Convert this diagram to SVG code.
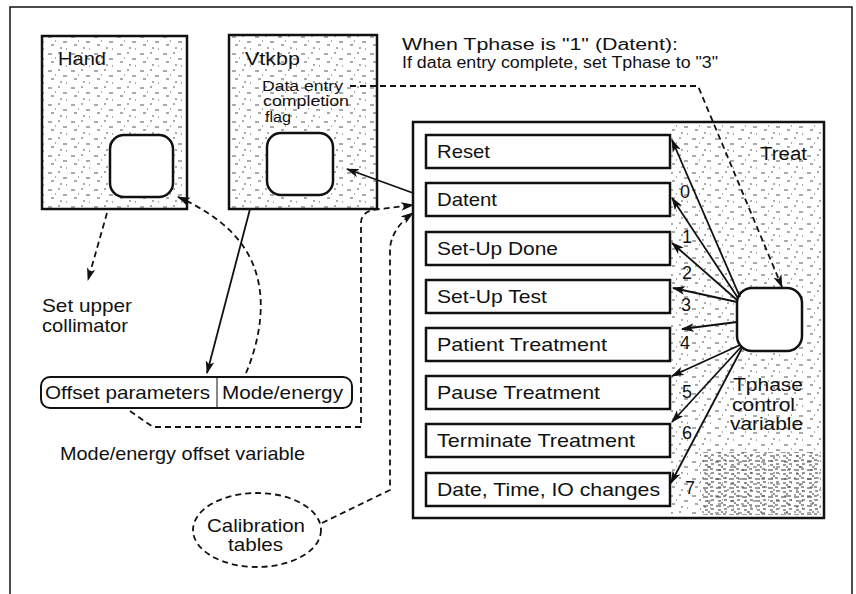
<svg xmlns="http://www.w3.org/2000/svg" width="856" height="594" viewBox="0 0 856 594">
<style>
text{font-family:"Liberation Sans",Arial,sans-serif;fill:#111}
.box{fill:#fff;stroke:#111;stroke-width:2.5}
.spk{fill:url(#spk);stroke:#111;stroke-width:2.5}
.rsq{fill:#fff;stroke:#111;stroke-width:2.5}
.ln{fill:none;stroke:#111;stroke-width:1.8}
.dash{fill:none;stroke:#111;stroke-width:1.8;stroke-dasharray:6 4}
.lbl{font-size:19px}
.num{font-size:18px}
</style>
<defs>
<pattern id="spk" width="23" height="17" patternUnits="userSpaceOnUse">
<path d="M2,3h4M12,2h2M17,8h4M5,11h3M14,14h2M9,7h1M20,15h1" stroke="#555" stroke-width="1"/>
</pattern>
<pattern id="spk2" width="13" height="9" patternUnits="userSpaceOnUse">
<path d="M1,2h5M8,1h3M3,6h3M9,5h3M6,8h2" stroke="#333" stroke-width="1.2"/>
</pattern>
<marker id="ah" viewBox="0 0 12 8" refX="11" refY="4" markerWidth="13" markerHeight="9" markerUnits="userSpaceOnUse" orient="auto">
<path d="M0,0L12,4L0,8L3,4Z" fill="#111"/>
</marker>
</defs>
<rect x="10" y="7" width="842" height="600" fill="#fff" stroke="#111" stroke-width="1.5"/>

<g id="note">
<text x="402" y="50" font-size="16" textLength="276" lengthAdjust="spacingAndGlyphs">When Tphase is "1" (Datent):</text>
<text x="402" y="68" font-size="16" textLength="316" lengthAdjust="spacingAndGlyphs">If data entry complete, set Tphase to "3"</text>
</g>

<g id="hand">
<rect class="spk" x="42" y="36" width="145" height="173"/>
<text x="58" y="65" font-size="18" textLength="48" lengthAdjust="spacingAndGlyphs">Hand</text>
<rect class="rsq" x="110" y="135" width="63" height="62" rx="14"/>
</g>

<g id="vtkbp">
<rect class="spk" x="229" y="35" width="148" height="174"/>
<text x="245" y="65" font-size="18" textLength="55" lengthAdjust="spacingAndGlyphs">Vtkbp</text>
<text x="262" y="91" font-size="14" textLength="81" lengthAdjust="spacingAndGlyphs">Data entry</text>
<text x="263" y="106" font-size="14" textLength="86" lengthAdjust="spacingAndGlyphs">completion</text>
<text x="265" y="122" font-size="14" textLength="26" lengthAdjust="spacingAndGlyphs">flag</text>
<rect class="rsq" x="267" y="133" width="66" height="62" rx="14"/>
</g>

<g id="set-upper">
<text class="lbl" x="42" y="312" textLength="90" lengthAdjust="spacingAndGlyphs">Set upper</text>
<text class="lbl" x="42" y="332" textLength="86" lengthAdjust="spacingAndGlyphs">collimator</text>
</g>

<g id="offset-var">
<rect x="41" y="377" width="311" height="31" rx="9" fill="#fff" stroke="#111" stroke-width="2"/>
<line x1="217" y1="378" x2="217" y2="407" stroke="#111" stroke-width="1"/>
<text class="lbl" x="45" y="399" textLength="165" lengthAdjust="spacingAndGlyphs">Offset parameters</text>
<text class="lbl" x="222" y="399" textLength="121" lengthAdjust="spacingAndGlyphs">Mode/energy</text>
<text class="lbl" x="60" y="460" textLength="245" lengthAdjust="spacingAndGlyphs">Mode/energy offset variable</text>
</g>

<g id="calibration">
<ellipse cx="257" cy="530" rx="64" ry="37" class="dash"/>
<text class="lbl" x="207" y="532" textLength="98" lengthAdjust="spacingAndGlyphs">Calibration</text>
<text class="lbl" x="228" y="551" textLength="55" lengthAdjust="spacingAndGlyphs">tables</text>
</g>

<g id="treat">
<rect class="box" x="413" y="122" width="411" height="396"/>
<rect x="671" y="124" width="151" height="392" fill="url(#spk)"/>
<rect x="700" y="452" width="121" height="63" fill="url(#spk2)"/>
<text x="760" y="160" font-size="18" textLength="47" lengthAdjust="spacingAndGlyphs">Treat</text>
<g id="phases">
<rect class="box" x="426" y="135" width="244" height="33"/>
<text class="lbl" x="437" y="158" textLength="53" lengthAdjust="spacingAndGlyphs">Reset</text>
<rect class="box" x="426" y="183" width="244" height="33"/>
<text class="lbl" x="437" y="206" textLength="60" lengthAdjust="spacingAndGlyphs">Datent</text>
<rect class="box" x="426" y="232" width="244" height="33"/>
<text class="lbl" x="437" y="255" textLength="121" lengthAdjust="spacingAndGlyphs">Set-Up Done</text>
<rect class="box" x="426" y="280" width="244" height="33"/>
<text class="lbl" x="437" y="303" textLength="110" lengthAdjust="spacingAndGlyphs">Set-Up Test</text>
<rect class="box" x="426" y="328" width="244" height="33"/>
<text class="lbl" x="437" y="351" textLength="170" lengthAdjust="spacingAndGlyphs">Patient Treatment</text>
<rect class="box" x="426" y="376" width="244" height="33"/>
<text class="lbl" x="437" y="399" textLength="163" lengthAdjust="spacingAndGlyphs">Pause Treatment</text>
<rect class="box" x="426" y="424" width="244" height="33"/>
<text class="lbl" x="437" y="447" textLength="198" lengthAdjust="spacingAndGlyphs">Terminate Treatment</text>
<rect class="box" x="426" y="473" width="244" height="33"/>
<text class="lbl" x="437" y="496" textLength="223" lengthAdjust="spacingAndGlyphs">Date, Time, IO changes</text>
</g>
<g id="tphase">
<rect class="rsq" x="737" y="288" width="65" height="63" rx="15"/>
<text x="733" y="391" font-size="18" textLength="70" lengthAdjust="spacingAndGlyphs">Tphase</text>
<text x="732" y="411" font-size="18" textLength="63" lengthAdjust="spacingAndGlyphs">control</text>
<text x="730" y="430" font-size="18" textLength="73" lengthAdjust="spacingAndGlyphs">variable</text>
</g>
<g id="phase-numbers">
<text class="num" x="680" y="198">0</text>
<text class="num" x="682" y="243">1</text>
<text class="num" x="682" y="279">2</text>
<text class="num" x="681" y="311">3</text>
<text class="num" x="680" y="349">4</text>
<text class="num" x="682" y="398">5</text>
<text class="num" x="682" y="439">6</text>
<text class="num" x="685" y="494">7</text>
</g>
</g>

<g id="connectors">
<path class="dash" d="M350,86L698,86L782,287" marker-end="url(#ah)"/>
<path class="dash" d="M107,213L88,280" marker-end="url(#ah)"/>
<path class="ln" d="M250,209L207,373" marker-end="url(#ah)"/>
<path class="dash" d="M246,373C258,345 265,310 258,280C250,245 225,218 178,197" marker-end="url(#ah)"/>
<path class="ln" d="M413,193L347,169" marker-end="url(#ah)"/>
<path class="dash" d="M130,411L153,427L361,427L361,222Q362,210 380,209L413,205" marker-end="url(#ah)"/>
<path class="dash" d="M322,523L390,490L390,248Q392,228 413,213" marker-end="url(#ah)"/>
<path class="ln" d="M740,297L672,140" marker-end="url(#ah)"/>
<path class="ln" d="M738,298L672,198" marker-end="url(#ah)"/>
<path class="ln" d="M737,300L672,243" marker-end="url(#ah)"/>
<path class="ln" d="M737,302L673,288" marker-end="url(#ah)"/>
<path class="ln" d="M737,322L682,329" marker-end="url(#ah)"/>
<path class="ln" d="M740,345L672,376" marker-end="url(#ah)"/>
<path class="ln" d="M741,347L672,422" marker-end="url(#ah)"/>
<path class="ln" d="M742,348L671,483" marker-end="url(#ah)"/>
</g>
</svg>
